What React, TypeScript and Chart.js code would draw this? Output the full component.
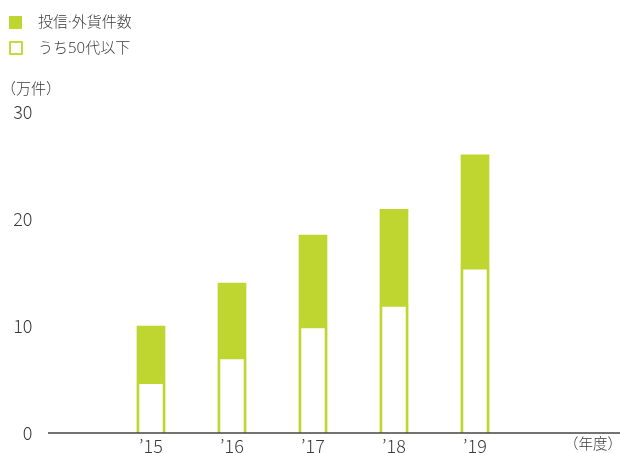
import React, { useEffect, useRef } from "react";
import { Chart, registerables } from "chart.js";

Chart.register(...registerables);

const categories = ["’15", "’16", "’17", "’18", "’19"];
const totalCounts = [10.0, 14.0, 18.5, 20.9, 26.0];
const under50Counts = [4.8, 7.1, 10.0, 12.0, 15.5];
const yTicks = [0, 10, 20, 30];
const seriesLabels = ["投信·外貨件数", "うち50代以下"];
const yUnit = "（万件）";
const xUnit = "（年度）";

const GREEN = "#bed62f";
const TEXT = "#3a3a3a";
const FONT = "'Noto Sans CJK JP', 'Noto Sans', sans-serif";
const MIX_FONT = "'Noto Sans', 'Noto Sans CJK JP', sans-serif";

const overlay = {
  id: "overlay",
  afterDatasetsDraw(chart: any) {
    const ctx = chart.ctx as CanvasRenderingContext2D;
    const ys = chart.scales.y;
    const y0 = ys.getPixelForValue(0);
    ctx.save();
    // baseline axis line spanning the full width
    ctx.strokeStyle = "#444";
    ctx.lineWidth = 1.5;
    ctx.beginPath();
    ctx.moveTo(48, y0);
    ctx.lineTo(chart.width, y0);
    ctx.stroke();

    // legend
    const ds = chart.data.datasets;
    ctx.font = `300 15px ${MIX_FONT}`;
    ctx.textBaseline = "middle";
    ctx.textAlign = "left";
    ctx.fillStyle = GREEN;
    ctx.fillRect(9, 16, 13, 13);
    ctx.fillStyle = TEXT;
    ctx.fillText(ds[1].label, 38, 22.5);
    ctx.strokeStyle = GREEN;
    ctx.lineWidth = 1.8;
    ctx.strokeRect(10, 42, 12, 12);
    ctx.fillStyle = TEXT;
    ctx.fillText(ds[0].label, 38, 48.5);

    // units
    ctx.font = `300 15px ${FONT}`;
    ctx.fillStyle = TEXT;
    ctx.textAlign = "left";
    ctx.fillText(yUnit, 1, 88);
    ctx.font = `300 14.5px ${FONT}`;
    ctx.textAlign = "right";
    ctx.fillText(xUnit, chart.width + 2, 443);
    ctx.restore();
  },
};

export default function App() {
  const ref = useRef<HTMLCanvasElement | null>(null);
  useEffect(() => {
    if (!ref.current) return;
    const chart = new Chart(ref.current, {
      type: "bar",
      data: {
        labels: categories,
        datasets: [
          {
            label: seriesLabels[1],
            data: under50Counts,
            backgroundColor: "#ffffff",
            borderColor: GREEN,
            borderWidth: 2.6,
            borderSkipped: "bottom",
            barThickness: 28,
            grouped: false,
            order: 1,
          },
          {
            label: seriesLabels[0],
            data: totalCounts,
            backgroundColor: GREEN,
            borderWidth: 0,
            barThickness: 28,
            grouped: false,
            order: 2,
          },
        ],
      },
      options: {
        animation: false,
        responsive: true,
        maintainAspectRatio: false,
        layout: { padding: { top: 112, right: 104.5, bottom: 0, left: 0 } },
        plugins: {
          legend: { display: false },
          tooltip: { enabled: false },
        },
        scales: {
          x: {
            grid: { display: false, drawTicks: false },
            border: { display: false },
            ticks: {
              padding: 2,
              maxRotation: 0,
              color: TEXT,
              font: { family: FONT, size: 18, weight: "300" },
            },
            afterFit(scale: any) {
              scale.height = 20;
            },
          },
          y: {
            min: yTicks[0],
            max: yTicks[yTicks.length - 1],
            grid: { display: false, drawTicks: false },
            border: { display: false },
            ticks: {
              stepSize: yTicks[1] - yTicks[0],
              padding: 78,
              color: TEXT,
              font: { family: FONT, size: 18, weight: "300" },
            },
            afterFit(scale: any) {
              scale.width = 110.5;
              scale.paddingTop = 0;
              scale.paddingBottom = 0;
            },
          },
        },
      },
      plugins: [overlay],
    });
    return () => chart.destroy();
  }, []);
  return (
    <div style={{ position: "absolute", left: 0, top: 0, width: 620, height: 453 }}>
      <canvas ref={ref} />
    </div>
  );
}
